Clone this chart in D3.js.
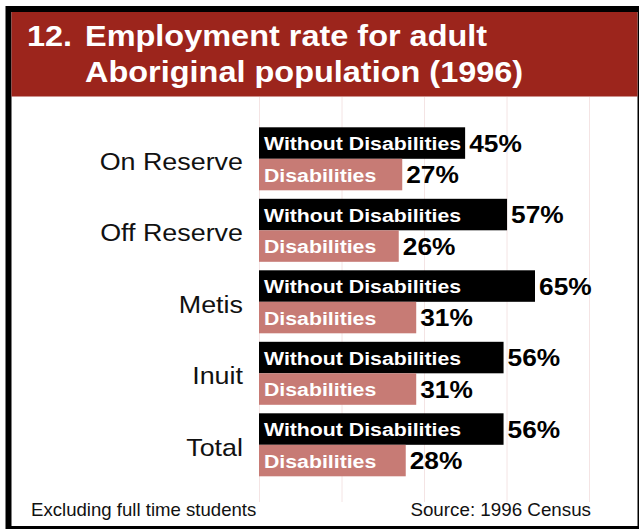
<!DOCTYPE html>
<html>
<head>
<meta charset="utf-8">
<script src="https://cdn.jsdelivr.net/npm/d3@7"></script>
<style>
  html, body { margin: 0; padding: 0; background: #fff; }
  svg { display: block; font-family: Arial, "Liberation Sans", Helvetica, sans-serif; }
</style>
</head>
<body>
<svg id="chart" width="639" height="529"></svg>
<script>
// data
var categories = ['On Reserve', 'Off Reserve', 'Metis', 'Inuit', 'Total'];
var withoutDisabilities = [45, 57, 65, 56, 56];
var withDisabilities = [27, 26, 31, 31, 28];
var seriesLabels = ['Without Disabilities', 'Disabilities'];
var gridTicks = [0, 25, 50, 75, 100];
var titleLines = ['Employment rate for adult', 'Aboriginal population (1996)'];

var stretch = 1.12;   // the original text is a bit wide
var red = '#9c251c';
var pink = '#c77b75';

var svg = d3.select('#chart');

// black frame + red title band
svg.append('rect')
  .attr('x', 8.5).attr('y', 9)
  .attr('width', 632).attr('height', 520)
  .attr('fill', '#fff')
  .attr('stroke', '#000')
  .attr('stroke-width', 6);

svg.append('rect')
  .attr('x', 11.5).attr('y', 12)
  .attr('width', 626).attr('height', 84.5)
  .attr('fill', red);

// title
var title = svg.append('g').attr('fill', '#fff')
  .style('font-weight', 'bold').style('font-size', '29px');
title.append('text')
  .attr('transform', 'translate(27,46) scale(1.12,1)')
  .text('12.');
titleLines.forEach(function(t, i) {
  title.append('text')
    .attr('transform', 'translate(85,' + (46 + i * 36) + ') scale(1.12,1)')
    .text(t);
});

// scales
var y = d3.scaleBand()
  .domain(categories)
  .range([127.3, 127.3 + 4 * 71.5 + 63])
  .paddingInner(8.5 / 71.5)
  .paddingOuter(0);

var ySub = d3.scaleBand()
  .domain(seriesLabels)
  .range([0, y.bandwidth()]);

var x = d3.scaleLinear()
  .domain([-14, 65])
  .range([259, 535]);

var gridScale = d3.scaleLinear()
  .domain([0, 100])
  .range([259, 589]);

// faint grid lines
svg.append('g')
  .selectAll('line')
  .data(gridTicks)
  .enter().append('line')
  .attr('x1', d => gridScale(d) + 0.5)
  .attr('x2', d => gridScale(d) + 0.5)
  .attr('y1', 97)
  .attr('y2', 502)
  .attr('stroke', '#f4e4e4')
  .attr('stroke-width', 1);

// rows
var rows = categories.map(function(c, i) {
  return { cat: c, values: [withoutDisabilities[i], withDisabilities[i]] };
});

var g = svg.selectAll('.row')
  .data(rows)
  .enter().append('g')
  .attr('class', 'row')
  .attr('transform', d => 'translate(0,' + y(d.cat) + ')');

// category labels
g.append('text')
  .attr('transform', 'translate(243,' + (y.bandwidth() / 2 + 11) + ') scale(' + stretch + ',1)')
  .attr('text-anchor', 'end')
  .style('font-size', '24px')
  .attr('fill', '#111')
  .text(d => d.cat);

var bars = g.selectAll('.bar')
  .data(d => d.values.map((v, j) => ({ key: seriesLabels[j], value: v, idx: j })))
  .enter().append('g')
  .attr('class', 'bar')
  .attr('transform', d => 'translate(0,' + ySub(d.key) + ')');

bars.append('rect')
  .attr('x', x(x.domain()[0]))
  .attr('y', 0)
  .attr('width', d => x(d.value) - x(x.domain()[0]))
  .attr('height', ySub.bandwidth())
  .attr('fill', d => d.idx == 0 ? '#000' : pink);

// label inside the bar
bars.append('text')
  .attr('transform', 'translate(' + (x(x.domain()[0]) + 5) + ',' + (ySub.bandwidth() / 2 + 7) + ') scale(' + stretch + ',1)')
  .style('font-size', '19px')
  .style('font-weight', 'bold')
  .attr('fill', '#fff')
  .text(d => d.key);

// value label
bars.append('text')
  .attr('transform', d => 'translate(' + (x(d.value) + 4) + ',' + (ySub.bandwidth() / 2 + 8.5) + ') scale(' + stretch + ',1)')
  .style('font-size', '23.5px')
  .style('font-weight', 'bold')
  .attr('fill', '#000')
  .text(d => d.value + '%');

// footer notes
svg.append('text')
  .attr('x', 31).attr('y', 516)
  .style('font-size', '18.6px')
  .attr('fill', '#111')
  .text('Excluding full time students');

svg.append('text')
  .attr('x', 591).attr('y', 516)
  .attr('text-anchor', 'end')
  .style('font-size', '18.8px')
  .attr('fill', '#111')
  .text('Source: 1996 Census');
</script>
</body>
</html>
